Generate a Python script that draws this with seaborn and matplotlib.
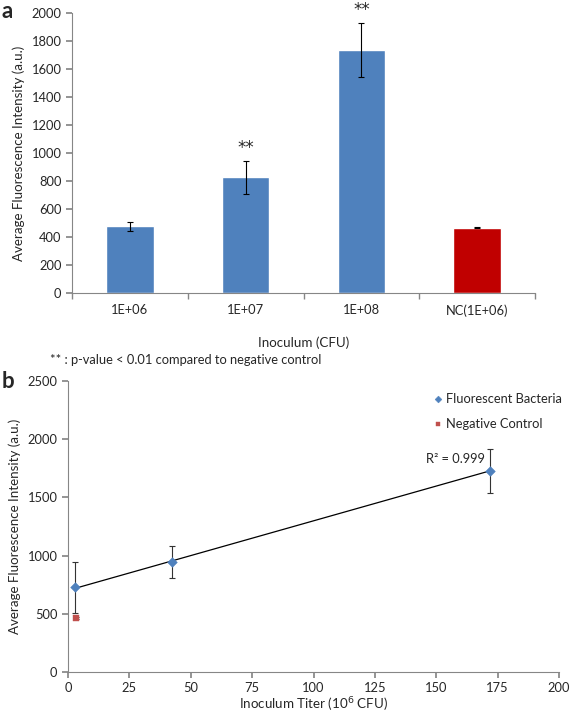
import numpy as np
import pandas as pd
import matplotlib
matplotlib.use("Agg")
import matplotlib.pyplot as plt
import seaborn as sns

# ---- data: panel a ----
categories = ["1E+06", "1E+07", "1E+08", "NC(1E+06)"]
bar_values = [478, 825, 1735, 466]
bar_errors = [32, 115, 190, 5]
bar_colors = ["#4F81BD", "#4F81BD", "#4F81BD", "#C00000"]
signif = ["", "**", "**", ""]

# ---- data: panel b ----
titer_x = [3.0, 42.4, 171.7]
titer_y = [726, 946, 1729]
titer_err = [215, 140, 190]
nc_x = [3.4]
nc_y = [462]
nc_err = [8]
r2_text = "R² = 0.999"

sns.set_theme(style="white")
plt.rcParams["font.family"] = ["Lato", "DejaVu Sans"]
axis_gray = "#868686"
fs = 9.3

fig = plt.figure(figsize=(5.70, 7.15), dpi=100)
W, H = 570, 715

def ax_rect(l, t, r, b):
    return [l / W, 1 - b / H, (r - l) / W, (b - t) / H]

# ---------------- panel a ----------------
ax1 = fig.add_axes(ax_rect(72, 13, 535, 293))
df_a = pd.DataFrame({"cat": categories, "val": bar_values})
sns.barplot(data=df_a, x="cat", y="val", hue="cat", palette=bar_colors,
            legend=False, width=0.41, ax=ax1, saturation=1, errorbar=None)
xs = np.arange(len(categories))
ax1.errorbar(xs, bar_values, yerr=bar_errors, fmt="none", ecolor="black",
             elinewidth=0.8, capsize=2, capthick=0.8)
for x, v, e, s in zip(xs, bar_values, bar_errors, signif):
    if s:
        ax1.text(x, v + e + 58, s, ha="center", va="baseline", fontsize=12,
                 family="DejaVu Sans", clip_on=False)
ax1.set_xlim(-0.5, 3.5)
ax1.set_ylim(0, 2000)
ax1.set_yticks(np.arange(0, 2001, 200))
ax1.set_xticks(xs)
ax1.set_xticks(np.arange(-0.5, 3.6, 1.0), minor=True)
ax1.tick_params(axis="x", which="major", length=0, labelsize=fs, pad=8)
ax1.tick_params(axis="x", which="minor", length=4, color=axis_gray, direction="out", bottom=True)
ax1.tick_params(axis="y", length=4, color=axis_gray, direction="out", left=True, labelsize=fs)
ax1.set_xlabel("Inoculum (CFU)", fontsize=fs + 0.3, labelpad=14)
ax1.set_ylabel("Average Fluorescence Intensity (a.u.)", fontsize=fs + 0.3, labelpad=5)
for sp in ["top", "right"]:
    ax1.spines[sp].set_visible(False)
for sp in ["left", "bottom"]:
    ax1.spines[sp].set_color(axis_gray)
    ax1.spines[sp].set_linewidth(0.8)

fig.text(2 / W, 1 - 11 / H, "a", fontsize=16, fontweight="bold", va="center", ha="left")
fig.text(50 / W, 1 - 360 / H, "** : p-value < 0.01 compared to negative control",
         fontsize=fs, va="center", ha="left")

# ---------------- panel b ----------------
ax2 = fig.add_axes(ax_rect(68, 381, 559, 672))
df_b = pd.DataFrame({"x": titer_x, "y": titer_y})
df_nc = pd.DataFrame({"x": nc_x, "y": nc_y})
sns.regplot(data=df_b, x="x", y="y", scatter=False, ci=None, truncate=True,
            line_kws={"color": "black", "lw": 0.9}, ax=ax2)
ax2.errorbar(titer_x, titer_y, yerr=titer_err, fmt="none", ecolor="#333333",
             elinewidth=0.8, capsize=2, capthick=0.8)
ax2.errorbar(nc_x, nc_y, yerr=nc_err, fmt="none", ecolor="#333333",
             elinewidth=0.8, capsize=2, capthick=0.8)
sns.scatterplot(data=df_b, x="x", y="y", marker="D", s=24, color="#4F81BD",
                edgecolor="#4F81BD", ax=ax2, label="Fluorescent Bacteria", zorder=3)
sns.scatterplot(data=df_nc, x="x", y="y", marker="s", s=14, color="#C0504D",
                edgecolor="#C0504D", ax=ax2, label="Negative Control", zorder=3)
ax2.text(158, 1830, r2_text, fontsize=fs, ha="center", va="center")
ax2.set_xlim(0, 200)
ax2.set_ylim(0, 2500)
ax2.set_xticks(np.arange(0, 201, 25))
ax2.set_yticks(np.arange(0, 2501, 500))
ax2.tick_params(axis="both", length=4, color=axis_gray, direction="out",
                bottom=True, left=True, labelsize=fs)
ax2.set_xlabel("Inoculum Titer (10$^{6}$ CFU)", fontsize=fs + 0.3, labelpad=1)
ax2.set_ylabel("Average Fluorescence Intensity (a.u.)", fontsize=fs + 0.3, labelpad=5)
for sp in ["top", "right"]:
    ax2.spines[sp].set_visible(False)
for sp in ["left", "bottom"]:
    ax2.spines[sp].set_color(axis_gray)
    ax2.spines[sp].set_linewidth(0.8)
leg = ax2.legend(loc="upper right", bbox_to_anchor=(1.03, 1.0), frameon=False,
                 fontsize=fs, handletextpad=0.1, markerscale=0.7, labelspacing=1.0,
                 handlelength=1.0)

fig.text(2 / W, 1 - 381 / H, "b", fontsize=16, fontweight="bold", va="center", ha="left")

fig.savefig("out.png", dpi=100)
